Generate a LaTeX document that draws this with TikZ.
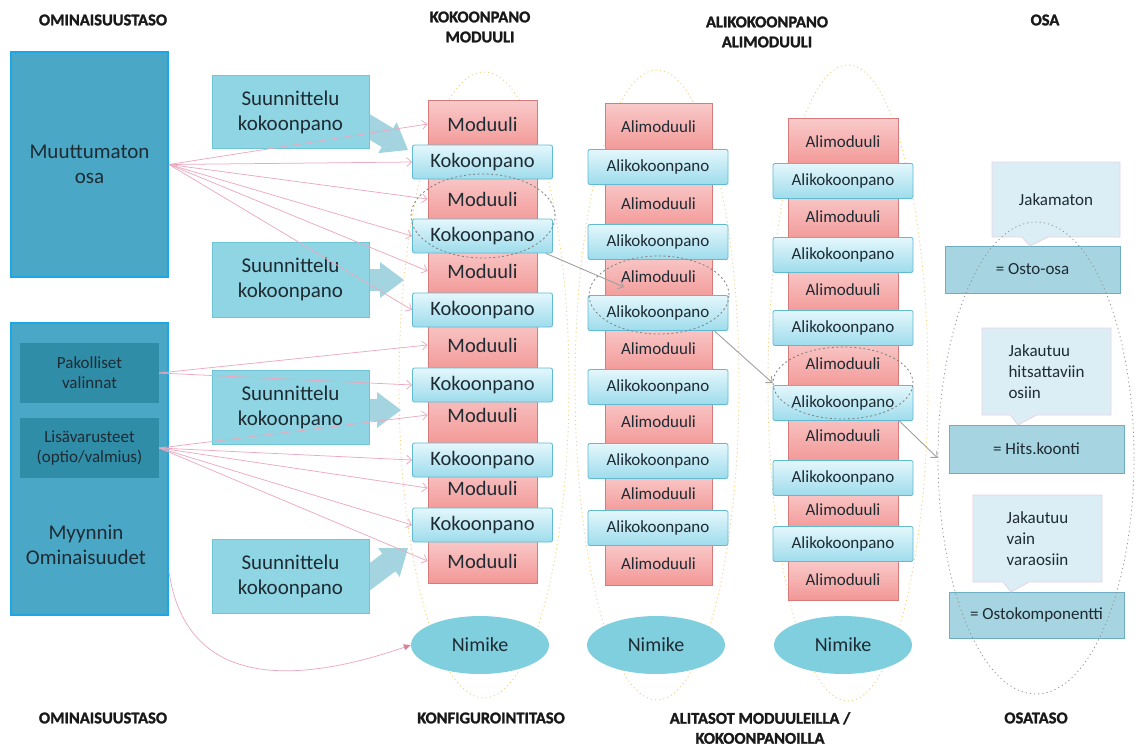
\documentclass[tikz,border=0pt]{standalone}
\usepackage{fontspec}
\setmainfont{Carlito}
\newfontfamily\headfont{Carlito}[BoldFeatures={FakeBold=1.6}]
\usetikzlibrary{arrows.meta,shapes.geometric,shapes.callouts,calc}

\definecolor{txt}{HTML}{1E2B33}
\definecolor{bigfill}{HTML}{4AA8C6}
\definecolor{bigline}{HTML}{1CA6EA}
\definecolor{subfill}{HTML}{2F8DA8}
\definecolor{suufill}{HTML}{8FD5E3}
\definecolor{suuline}{HTML}{6FC6D8}
\definecolor{fatblue}{HTML}{A3D4E0}
\definecolor{modtop}{HTML}{F9CACA}
\definecolor{modbot}{HTML}{F29896}
\definecolor{modline}{HTML}{D67B7B}
\definecolor{koktop}{HTML}{E4F7FC}
\definecolor{kokbot}{HTML}{9EDCEC}
\definecolor{kokline}{HTML}{5FBAD2}
\definecolor{nimfill}{HTML}{7FCFDE}
\definecolor{ringyellow}{HTML}{F0D488}
\definecolor{callfill}{HTML}{DCEEF5}
\definecolor{callline}{HTML}{E6D2E6}
\definecolor{resfill}{HTML}{A6D4E1}
\definecolor{resline}{HTML}{6EAEC2}
\definecolor{ringgray}{HTML}{959595}
\definecolor{linkpink}{HTML}{EBAABF}
\definecolor{linkpinkdark}{HTML}{D9829F}
\definecolor{linkgray}{HTML}{A0A0A0}

\newcommand{\fsz}[2]{\fontsize{#1}{#2}\selectfont}
% fat translucent arrow: tip position and direction
\newcommand{\blockarrow}[3]{\fill[fatblue, shift={(#1,#2)}, rotate=#3]
  (0,0) -- (-24,-18) -- (-24,-11) -- (-62,-11) -- (-62,11) -- (-24,11) -- (-24,18) -- cycle;}

\begin{document}
\begin{tikzpicture}[x=1pt,y=-1pt,
  every node/.append style={text=txt, inner sep=0pt},
  bigbox/.style={draw=bigline, line width=2pt, fill=bigfill, minimum width=157pt, align=center, font=\fsz{21}{25}},
  subbox/.style={fill=subfill, minimum width=139pt, minimum height=60pt, align=center, font=\fsz{17}{20}},
  suun/.style={draw=suuline, line width=0.8pt, fill=suufill, minimum width=157pt, minimum height=73pt, align=center, font=\fsz{21}{25}},
  modA/.style={draw=modline, line width=0.8pt, top color=modtop, bottom color=modbot, minimum width=109pt, font=\fsz{20.5}{24}},
  kokA/.style={draw=kokline, line width=0.8pt, top color=koktop, bottom color=kokbot, rounded corners=2pt, minimum width=140pt, minimum height=34pt, font=\fsz{20.5}{24}},
  modB/.style={modA, minimum width=107pt, font=\fsz{17}{20}},
  modC/.style={modA, minimum width=110pt, font=\fsz{17}{20}},
  kokB/.style={kokA, minimum width=140pt, minimum height=35pt, font=\fsz{17}{20}},
  nimike/.style={ellipse, fill=nimfill, minimum width=138pt, minimum height=58pt, font=\fsz{20}{24}},
  colring/.style={draw=ringyellow, line width=0.9pt, dash pattern=on 1.2pt off 3pt},
  callbox/.style={rectangle callout, fill=callfill, draw=callline, line width=0.8pt, callout pointer width=26pt, align=left, font=\fsz{17}{21}},
  resbox/.style={draw=resline, line width=0.8pt, fill=resfill, minimum width=175pt, font=\fsz{17}{20}},
  hilite/.style={ellipse, draw=ringgray!85!black, line width=0.8pt, dash pattern=on 2pt off 2.5pt},
  osaring/.style={ellipse, draw=ringgray, line width=0.8pt, dash pattern=on 1.2pt off 3pt},
  link/.style={draw=linkpink, line width=0.75pt, -{Straight Barb[length=5pt,width=9pt]}},
  graylink/.style={draw=linkgray, line width=0.9pt, -{Straight Barb[length=5pt,width=9pt]}},
  head/.style={font=\headfont\bfseries\fsz{16.5}{20}, align=center, text=black!90}
]
\useasboundingbox (0,0) rectangle (1139,747);

% column outlines
\draw[colring] (484,385) ellipse [x radius=85, y radius=313];
\draw[colring] (657,385) ellipse [x radius=82, y radius=315];
\draw[colring] (848,383) ellipse [x radius=80, y radius=318];

% fat arrows from the design assemblies
\blockarrow{408}{150}{-31}
\blockarrow{404}{280}{0}
\blockarrow{401}{410}{0}
\blockarrow{408}{548}{37}

% feature level
\node[bigbox, minimum height=225pt] (big1) at (89.5,164.5) {Muuttumaton\\osa};
\node[bigbox, minimum height=292pt] (big2) at (89.5,469) {};
\node[subbox] (pak) at (89.5,373) {Pakolliset\\valinnat};
\node[subbox] (lis) at (89.5,448) {Lisävarusteet\\(optio/valmius)};
\node[align=center, font=\fsz{21}{25}] (myy) at (86,545) {Myynnin\\Ominaisuudet};

\node[suun] (s1) at (290.5,112) {Suunnittelu\\kokoonpano};
\node[suun, minimum height=75pt] (s2) at (290.5,279.5) {Suunnittelu\\kokoonpano};
\node[suun, minimum height=74pt] (s3) at (290.5,407) {Suunnittelu\\kokoonpano};
\node[suun, minimum height=74pt] (s4) at (290.5,576) {Suunnittelu\\kokoonpano};

% configuration level: modules and assemblies
\node[modA, minimum height=48pt] (m1) at (482.5,124) {Moduuli};
\node[modA, minimum height=50pt] (m2) at (482.5,199) {Moduuli};
\node[modA, minimum height=50pt] (m3) at (482.5,271) {Moduuli};
\node[modA, minimum height=52pt] (m4) at (482.5,345) {Moduuli};
\node[modA, minimum height=62pt] (m5) at (482.5,415) {Moduuli};
\node[modA, minimum height=46pt] (m6) at (482.5,488) {Moduuli};
\node[modA, minimum height=44pt] (m7) at (482.5,561) {Moduuli};
\node[kokA] (k1) at (482.5,162) {Kokoonpano};
\node[kokA] (k2) at (482.5,236) {Kokoonpano};
\node[kokA] (k3) at (482.5,310) {Kokoonpano};
\node[kokA] (k4) at (482.5,385) {Kokoonpano};
\node[kokA] (k5) at (482.5,460) {Kokoonpano};
\node[kokA] (k6) at (482.5,525) {Kokoonpano};

% sub levels
\node[modB, minimum height=48pt] (p21) at (658.5,127) {Alimoduuli};
\node[modB, minimum height=50pt] (p22) at (658.5,204) {Alimoduuli};
\node[modB, minimum height=48pt] (p23) at (658.5,277) {Alimoduuli};
\node[modB, minimum height=48pt] (p24) at (658.5,349) {Alimoduuli};
\node[modB, minimum height=50pt] (p25) at (658.5,422) {Alimoduuli};
\node[modB, minimum height=40pt] (p26) at (658.5,494) {Alimoduuli};
\node[modB, minimum height=42pt] (p27) at (658.5,564) {Alimoduuli};
\node[kokB] (a21) at (658,167) {Alikokoonpano};
\node[kokB] (a22) at (658,242) {Alikokoonpano};
\node[kokB] (a23) at (658,313) {Alikokoonpano};
\node[kokB] (a24) at (658,387) {Alikokoonpano};
\node[kokB] (a25) at (658,461) {Alikokoonpano};
\node[kokB] (a26) at (658,528) {Alikokoonpano};

\node[modC, minimum height=48pt] (p31) at (843,142) {Alimoduuli};
\node[modC, minimum height=48pt] (p32) at (843,217) {Alimoduuli};
\node[modC, minimum height=48pt] (p33) at (843,290) {Alimoduuli};
\node[modC, minimum height=50pt] (p34) at (843,364) {Alimoduuli};
\node[modC, minimum height=54pt] (p35) at (843,436) {Alimoduuli};
\node[modC, minimum height=40pt] (p36) at (843,510) {Alimoduuli};
\node[modC, minimum height=40pt] (p37) at (843,580) {Alimoduuli};
\node[kokB] (a31) at (843,181) {Alikokoonpano};
\node[kokB] (a32) at (843,255) {Alikokoonpano};
\node[kokB] (a33) at (843,328) {Alikokoonpano};
\node[kokB] (a34) at (843,403) {Alikokoonpano};
\node[kokB] (a35) at (843,478) {Alikokoonpano};
\node[kokB] (a36) at (843,544) {Alikokoonpano};

\node[nimike] (n1) at (480,645) {Nimike};
\node[nimike] (n2) at (656,645) {Nimike};
\node[nimike] (n3) at (843,645) {Nimike};

% part level
\node[resbox, minimum height=47pt] (r1) at (1032.5,269.5) {= Osto-osa};
\node[resbox, minimum height=48pt] (r2) at (1036.5,449) {= Hits.koonti};
\node[resbox, minimum height=46pt] (r3) at (1036.5,615) {= Ostokomponentti};
\node[callbox, minimum width=128pt, minimum height=75pt, callout absolute pointer={(1030,246)}] (c1) at (1056,199.5) {Jakamaton};
\node[callbox, minimum width=129pt, minimum height=87pt, callout absolute pointer={(1018,425)}] (c2) at (1046.5,371.5) {Jakautuu\\hitsattaviin\\osiin};
\node[callbox, minimum width=129pt, minimum height=87pt, callout absolute pointer={(1011,592)}] (c3) at (1037.5,538.5) {Jakautuu\\vain\\varaosiin};
\node[osaring, minimum width=196pt, minimum height=472pt] (osa) at (1036,458) {};

% highlighted pairs
\node[hilite, minimum width=144pt, minimum height=84pt] (h1) at (483,216) {};
\node[hilite, minimum width=140pt, minimum height=78pt] (h2) at (659,295) {};
\node[hilite, minimum width=140pt, minimum height=72pt] (h3) at (843,383) {};

% links from the features
\foreach \t in {m1,k1,m2,k2,m3,k3} \draw[link] (big1.east) -- (\t.west);
\foreach \t in {m4,k4} \draw[link] (pak.east) -- (\t.west);
\foreach \t in {m5,k5,m6,k6,m7} \draw[link] (lis.east) -- (\t.west);
\draw[draw=linkpink, line width=0.75pt, -{Triangle[length=7pt,width=6pt,color=linkpinkdark,fill=linkpinkdark]}]
  ($(big2.north east)!0.85!(big2.south east)$) .. controls (185,680) and (280,690) .. (n1.west);

% breakdown chain
\coordinate (g1end) at (624,287);
\draw[graylink] ($(k2.south east)!0.05!(k2.south west)$) -- (g1end);
\draw[graylink] ($(a23.south east)!0.1!(a23.south west)$) -- (h3.west);
\draw[graylink] ($(a34.south east)!0.1!(a34.south west)$) -- (osa.west);

% level titles
\node[head] (hd1) at (103,20) {OMINAISUUSTASO};
\node[head] (hd2) at (480,27) {KOKOONPANO\\MODUULI};
\node[head] (hd3) at (767,32) {ALIKOKOONPANO\\ALIMODUULI};
\node[head] (hd4) at (1045,20) {OSA};
\node[head] (ft1) at (103,718) {OMINAISUUSTASO};
\node[head] (ft2) at (491,718) {KONFIGUROINTITASO};
\node[head] (ft3) at (760,728) {ALITASOT MODUULEILLA /\\KOKOONPANOILLA};
\node[head] (ft4) at (1036,718) {OSATASO};
\end{tikzpicture}
\end{document}
